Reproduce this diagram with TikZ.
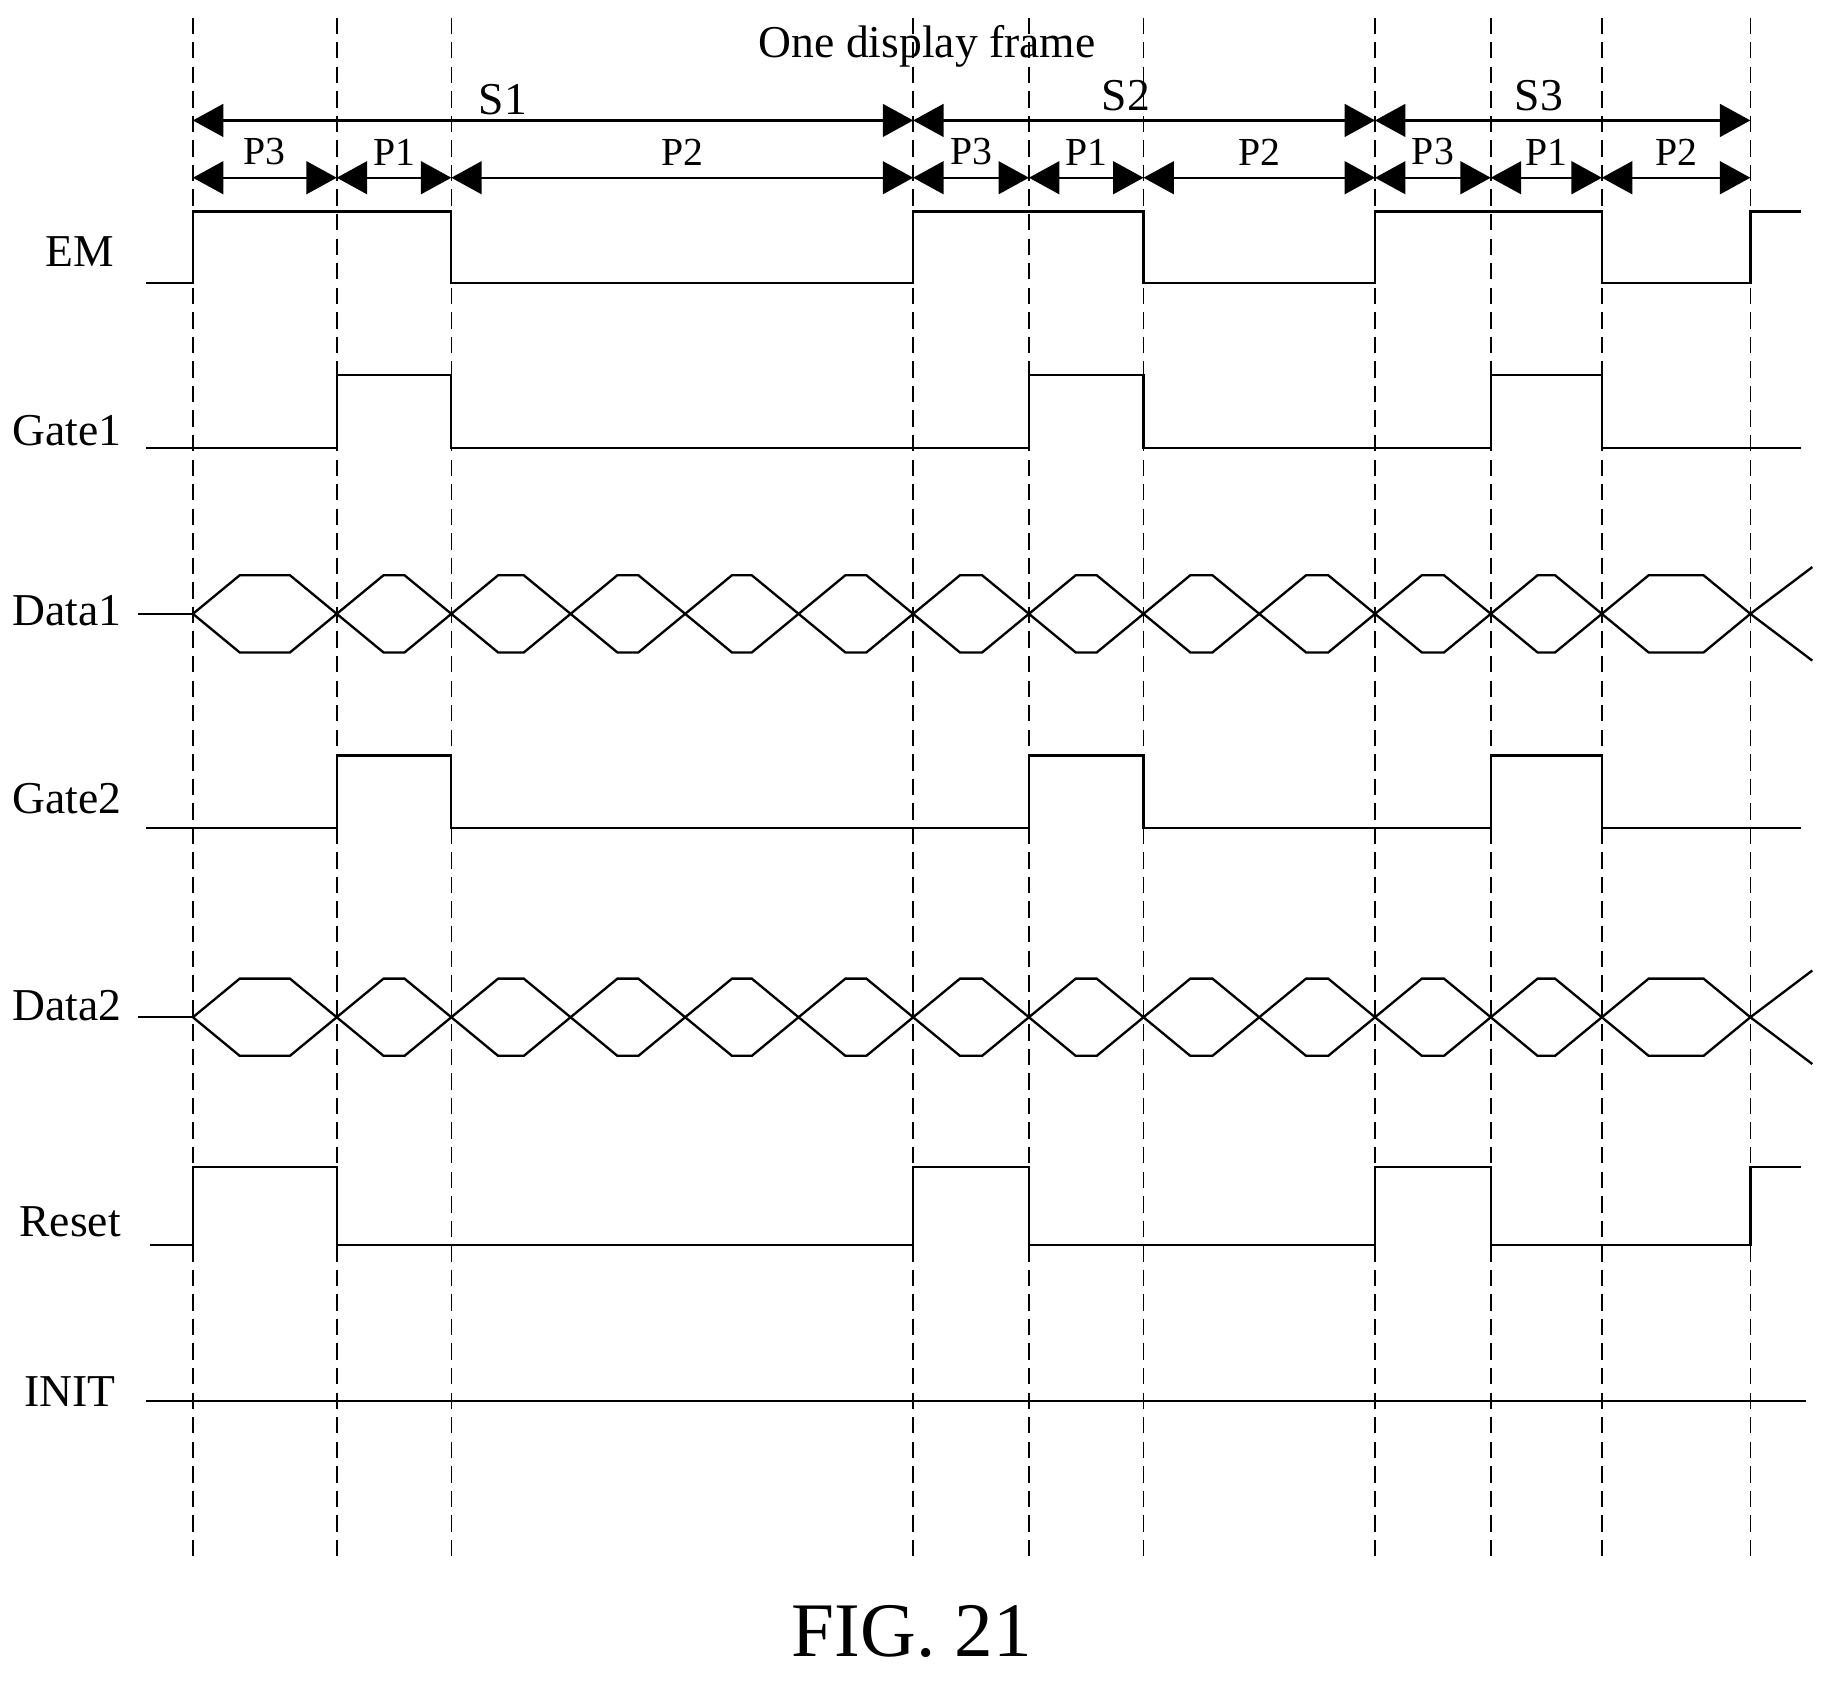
\documentclass[tikz,border=0pt]{standalone}
\usepackage{fontspec}
\setmainfont{Liberation Serif}
\usetikzlibrary{arrows.meta}
\begin{document}
\begin{tikzpicture}[x=1pt,y=-1pt,
  sig/.style={line width=2pt},
  vdash/.style={line width=1.3pt,dash pattern=on 14pt off 7pt},
  dim/.style={line width=2pt,{Triangle[length=26pt,width=28pt]}-{Triangle[length=26pt,width=28pt]}},
  lbl/.style={font=\fontsize{39}{44}\selectfont},
  plbl/.style={font=\fontsize{34}{38}\selectfont}]
\useasboundingbox (0,0) rectangle (1560,1437);
\foreach \x in {165,288,386,781,880,978,1176,1275,1370,1497}
  \draw[vdash] (\x,15) -- (\x,1332);
\node[lbl] (title) at (793,40) {One display frame};
% S row
\draw[dim] (165,103) -- (781,103);
\draw[dim] (781,103) -- (1176,103);
\draw[dim] (1176,103) -- (1497,103);
\node[lbl] (s1) at (430,85) {S1};
\node[lbl] (s2) at (963,82) {S2};
\node[lbl] (s3) at (1316,82) {S3};
% P row
\foreach \a/\b/\t in {165/288/P3,288/386/P1,386/781/P2,781/880/P3,880/978/P1,978/1176/P2,1176/1275/P3,1275/1370/P1,1370/1497/P2}{
  \draw[dim] (\a,152) -- (\b,152);
  \node[plbl] at ({(\a+\b)/2},130) {\t};
}
% labels
\node[lbl] (em) at (68,215) {EM};
\node[lbl] (g1) at (57,368) {Gate1};
\node[lbl] (d1) at (57,522) {Data1};
\node[lbl] (g2) at (57,683) {Gate2};
\node[lbl] (d2) at (57,860) {Data2};
\node[lbl] (rs) at (60,1045) {Reset};
\node[lbl] (in) at (60,1190) {INIT};
% EM
\draw[sig] (125,242) -- (165,242) -- (165,181) -- (386,181) -- (386,242) -- (781,242) -- (781,181) -- (978,181) -- (978,242) -- (1176,242) -- (1176,181) -- (1370,181) -- (1370,242) -- (1497,242) -- (1497,181) -- (1540,181);
% Gate1, Gate2
\foreach \lo/\hi in {383/321,708/646}
  \draw[sig] (125,\lo) -- (288,\lo) -- (288,\hi) -- (386,\hi) -- (386,\lo) -- (880,\lo) -- (880,\hi) -- (978,\hi) -- (978,\lo) -- (1275,\lo) -- (1275,\hi) -- (1370,\hi) -- (1370,\lo) -- (1540,\lo);
% Data
\foreach \c in {525,870}{
  \draw[sig] (118,\c) -- (165,\c);
  \foreach \a/\b in {165/288,288/386,386/488,488/586,586/683,683/781,781/880,880/978,978/1077,1077/1176,1176/1275,1275/1370,1370/1497}{
    \draw[sig] (\a,\c) -- (\a+40,\c-33) -- (\b-40,\c-33) -- (\b,\c);
    \draw[sig] (\a,\c) -- (\a+40,\c+33) -- (\b-40,\c+33) -- (\b,\c);
  }
  \draw[sig] (1497,\c) -- (1550,\c-40);
  \draw[sig] (1497,\c) -- (1550,\c+40);
}
% Reset
\draw[sig] (128,1065) -- (165,1065) -- (165,998) -- (288,998) -- (288,1065) -- (781,1065) -- (781,998) -- (880,998) -- (880,1065) -- (1176,1065) -- (1176,998) -- (1275,998) -- (1275,1065) -- (1497,1065) -- (1497,998) -- (1540,998);
% INIT
\draw[sig] (125,1198) -- (1545,1198);
\node[font=\fontsize{66}{74}\selectfont] (fig) at (780,1395) {FIG. 21};
\end{tikzpicture}
\end{document}
